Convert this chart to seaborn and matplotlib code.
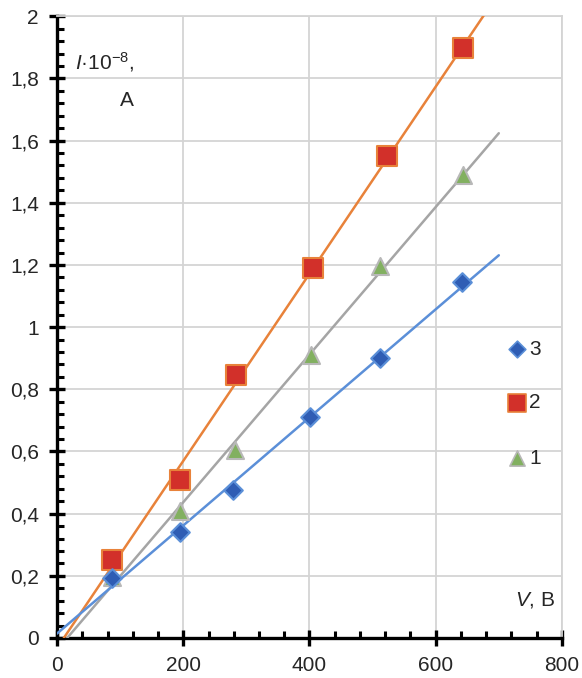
import numpy as np
import pandas as pd
import matplotlib
matplotlib.use('Agg')
import matplotlib.pyplot as plt
from matplotlib.ticker import MultipleLocator, FuncFormatter
import seaborn as sns

# Data (V in volts, I in 1e-8 A)
V1 = [87, 195, 282, 402, 512, 643]
I1 = [0.196, 0.41, 0.605, 0.91, 1.196, 1.49]
V2 = [87, 195, 284, 406, 523, 643]
I2 = [0.25, 0.508, 0.846, 1.19, 1.55, 1.897]
V3 = [87, 195, 279, 401, 512, 642]
I3 = [0.193, 0.34, 0.476, 0.71, 0.90, 1.145]
series_names = ['3', '2', '1']

sns.set_theme(style='white')
plt.rcParams['font.family'] = ['Liberation Sans', 'DejaVu Sans']
plt.rcParams['mathtext.fontset'] = 'custom'
plt.rcParams['mathtext.rm'] = 'Liberation Sans'
plt.rcParams['mathtext.it'] = 'Liberation Sans:italic'

fig = plt.figure(figsize=(5.82, 6.78), dpi=100)
ax = fig.add_axes([0.098, 0.059, 0.8675, 0.917])

styles = {
    '1': dict(V=V1, I=I1, line='#a5a5a5', face='#82b060', edge='#b8b8b8', marker='^', size=150),
    '2': dict(V=V2, I=I2, line='#e8823a', face='#d2302a', edge='#e8823a', marker='s', size=190),
    '3': dict(V=V3, I=I3, line='#5b8fd8', face='#2f5db4', edge='#5b8fd8', marker='D', size=90),
}

# linear fit lines
for name in ['1', '2', '3']:
    st = styles[name]
    k, b = np.polyfit(st['V'], st['I'], 1)
    x0 = max(0, -b / k)
    xs = np.array([x0, 700])
    fit = pd.DataFrame({'V': xs, 'I': k * xs + b})
    sns.lineplot(data=fit, x='V', y='I', color=st['line'], lw=1.8, ax=ax, zorder=3)

for name in ['1', '2', '3']:
    st = styles[name]
    df = pd.DataFrame({'V': st['V'], 'I': st['I']})
    sns.scatterplot(data=df, x='V', y='I', marker=st['marker'], s=st['size'],
                    color=st['face'], edgecolor=st['edge'], linewidth=1.5, ax=ax, zorder=4)

# legend drawn as markers + text at right
leg_y = [0.929, 0.756, 0.579]
for name, yy in zip(series_names, leg_y):
    st = styles[name]
    ax.scatter([729], [yy], marker=st['marker'], s=st['size'] * 0.8, color=st['face'],
               edgecolor=st['edge'], linewidth=1.2, zorder=5)
    ax.text(748, yy, name, fontsize=15, va='center', ha='left')

ax.set_xlim(0, 800)
ax.set_ylim(0, 2)
ax.xaxis.set_major_locator(MultipleLocator(200))
ax.xaxis.set_minor_locator(MultipleLocator(40))
ax.yaxis.set_major_locator(MultipleLocator(0.2))
ax.yaxis.set_minor_locator(MultipleLocator(0.04))
ax.yaxis.set_major_formatter(FuncFormatter(lambda v, p: ('%g' % round(v, 2)).replace('.', ',')))
ax.grid(True, which='major', color='#d4d4d4', lw=1.3)
ax.set_axisbelow(True)

for s in ['left', 'bottom']:
    ax.spines[s].set_color('black')
    ax.spines[s].set_linewidth(2.4)
for s in ['top', 'right']:
    ax.spines[s].set_color('#d4d4d4')
    ax.spines[s].set_linewidth(1.3)

ax.tick_params(which='major', direction='inout', length=12, width=2.4, color='black',
               labelsize=15, pad=7)
ax.tick_params(which='minor', direction='in', length=5, width=2.2, color='black')
ax.tick_params(axis='x', which='both', top=False, bottom=True)
ax.tick_params(axis='y', which='both', right=False, left=True)
ax.set_xlabel('')
ax.set_ylabel('')

ax.text(76, 1.852, r'$\mathit{I}$·10$^{-8}$,', fontsize=15, ha='center', va='center')
ax.text(111, 1.73, 'A', fontsize=15, ha='center', va='center')
ax.text(757, 0.122, r'$\mathit{V}$, B', fontsize=15, ha='center', va='center')

fig.savefig('out.png', dpi=100)
